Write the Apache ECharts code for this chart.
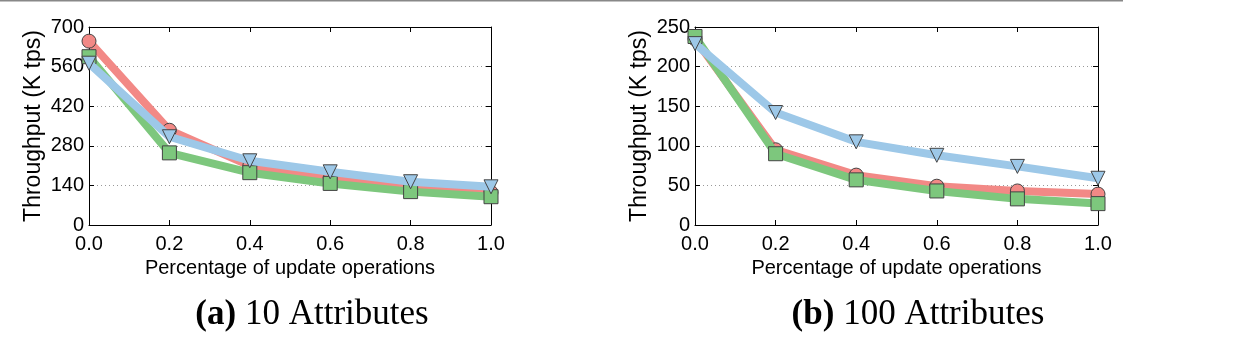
<!DOCTYPE html>
<html><head><meta charset="utf-8">
<script src="https://cdn.jsdelivr.net/npm/echarts@6/dist/echarts.min.js"></script>
<style>html,body{margin:0;padding:0;background:#fff}#c{width:1240px;height:356px}</style>
</head><body><div id="c"></div>
<script>
const xValues = [0.0, 0.2, 0.4, 0.6, 0.8, 1.0];
const xTicks = ['0.0','0.2','0.4','0.6','0.8','1.0'];
const yTicksA = [0, 140, 280, 420, 560, 700];
const yTicksB = [0, 50, 100, 150, 200, 250];
// (a) 10 Attributes
const redA   = [650, 335, 210, 165, 130, 115];
const greenA = [595, 255, 185, 147, 118, 100];
const blueA  = [572, 312, 227, 188, 153, 135];
// (b) 100 Attributes
const redB   = [235, 95, 63, 49, 43, 39];
const greenB = [238, 90, 57, 43, 33, 27];
const blueB  = [229, 142, 105, 88, 74, 59];
const captionA = ['(a)', ' 10 Attributes'];
const captionB = ['(b)', ' 100 Attributes'];
const xName = 'Percentage of update operations';
const yName = 'Throughput (K tps)';

const RED = '#F28986', GREEN = '#7DC77D', BLUE = '#9DC8E8';
const FONT = 'Liberation Sans';
const chart = echarts.init(document.getElementById('c'), null, {renderer: 'canvas'});
const pairs = v => v.map((y, i) => [xValues[i], y]);

function axes(gi, yTicks) {
  const ymax = yTicks[yTicks.length - 1], yint = yTicks[1] - yTicks[0];
  const xs = [{
    type: 'value', gridIndex: gi, min: 0, max: 1, interval: 0.2, position: 'bottom',
    axisLine: {onZero: false, lineStyle: {color: '#000', width: 1}},
    axisTick: {inside: true, length: 5, lineStyle: {color: '#000'}},
    axisLabel: {formatter: v => xTicks[Math.round(v * 5)], color: '#000', fontFamily: FONT, fontSize: 20, margin: 9},
    splitLine: {show: false},
    name: xName, nameLocation: 'middle', nameGap: 27,
    nameTextStyle: {color: '#000', fontFamily: FONT, fontSize: 20}
  }, {
    type: 'value', gridIndex: gi, min: 0, max: 1, interval: 0.2, position: 'top',
    axisLine: {onZero: false, lineStyle: {color: '#000', width: 1}},
    axisTick: {inside: true, length: 5, lineStyle: {color: '#000'}},
    axisLabel: {show: false}, splitLine: {show: false}
  }];
  const ys = [{
    type: 'value', gridIndex: gi, min: 0, max: ymax, interval: yint, position: 'left',
    axisLine: {show: true, onZero: false, lineStyle: {color: '#000', width: 1}},
    axisTick: {show: true, inside: true, length: 5, lineStyle: {color: '#000'}},
    axisLabel: {color: '#000', fontFamily: FONT, fontSize: 20, margin: 5},
    splitLine: {show: true, lineStyle: {color: '#999', type: [1, 3], width: 1}},
    name: yName, nameLocation: 'middle', nameGap: 44, nameRotate: 90,
    nameTextStyle: {color: '#000', fontFamily: FONT, fontSize: 23}
  }, {
    type: 'value', gridIndex: gi, min: 0, max: ymax, interval: yint, position: 'right',
    axisLine: {show: true, onZero: false, lineStyle: {color: '#000', width: 1}},
    axisTick: {show: true, inside: true, length: 5, lineStyle: {color: '#000'}},
    axisLabel: {show: false}, splitLine: {show: false}
  }];
  return {xs, ys};
}
const a = axes(0, yTicksA), b = axes(1, yTicksB);

function ser(data, color, symbol, rot, xi, yi, z) {
  return {
    type: 'line', data: pairs(data), xAxisIndex: xi, yAxisIndex: yi, z: z,
    symbol: symbol, symbolSize: 14, symbolRotate: rot,
    showAllSymbol: true, clip: false,
    lineStyle: {color: color, width: 8},
    itemStyle: {color: color, borderColor: '#444', borderWidth: 1},
    emphasis: {disabled: true}, animation: false
  };
}

const capRich = {
  b: {fontFamily: 'Liberation Serif', fontWeight: 'bold', fontSize: 35, fill: '#000'},
  n: {fontFamily: 'Liberation Serif', fontSize: 35, fill: '#000'}
};

chart.setOption({
  animation: false,
  grid: [
    {left: 89, top: 27, width: 402, height: 198},
    {left: 695, top: 27, width: 403, height: 198}
  ],
  xAxis: [...a.xs, ...b.xs],
  yAxis: [...a.ys, ...b.ys],
  series: [
    ser(redA, RED, 'circle', 0, 0, 0, 2),
    ser(greenA, GREEN, 'rect', 0, 0, 0, 3),
    ser(blueA, BLUE, 'triangle', 180, 0, 0, 4),
    ser(redB, RED, 'circle', 0, 2, 2, 2),
    ser(greenB, GREEN, 'rect', 0, 2, 2, 3),
    ser(blueB, BLUE, 'triangle', 180, 2, 2, 4)
  ],
  graphic: [
    {type: 'rect', shape: {x: 0, y: 0, width: 1123, height: 1.5}, style: {fill: '#888'}},
    {type: 'text', x: 312, y: 315, style: {
      text: '{b|' + captionA[0] + '}{n|' + captionA[1] + '}', align: 'center', verticalAlign: 'middle', rich: capRich}},
    {type: 'text', x: 918, y: 315, style: {
      text: '{b|' + captionB[0] + '}{n|' + captionB[1] + '}', align: 'center', verticalAlign: 'middle', rich: capRich}}
  ]
});
</script></body></html>
